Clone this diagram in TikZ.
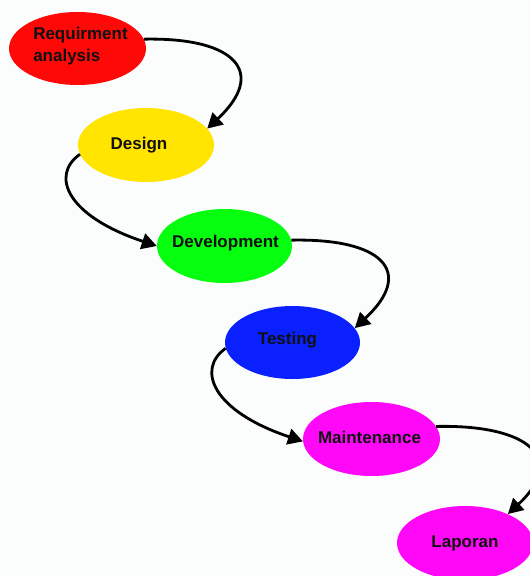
\documentclass[tikz,border=0pt]{standalone}
\usepackage{fontspec}
\setmainfont{Liberation Sans}
\usetikzlibrary{arrows.meta,shapes.geometric}
\definecolor{bg}{HTML}{FBFDFD}
\definecolor{cred}{HTML}{FF0808}
\definecolor{cyel}{HTML}{FFE500}
\definecolor{cgrn}{HTML}{05FF0F}
\definecolor{cblu}{HTML}{0A20FF}
\definecolor{cmag}{HTML}{FF08F8}
\definecolor{ink}{HTML}{111111}
\tikzset{
  phase/.style={ellipse, draw=none, minimum width=136pt, minimum height=74pt, inner sep=0pt},
  phasetext/.style={text=ink, font=\bfseries\fontsize{17}{22}\selectfont, align=left, inner sep=0pt},
  flow/.style={line width=2.8pt, draw=black, -{Triangle[length=15pt,width=16pt]}}
}
\begin{document}
\begin{tikzpicture}[x=1pt,y=-1pt]
\clip (0,0) rectangle (530,576);
\fill[bg] (0,0) rectangle (530,576);
\node[phase, fill=cred, minimum width=137pt, minimum height=73pt,
  label={[phasetext, xshift=3pt, yshift=2pt]center:{Requirment\\analysis}}] (req) at (77.5,48.5) {};
\node[phase, fill=cyel, label={[phasetext, xshift=-7pt]center:Design}] (des) at (146,145) {};
\node[phase, fill=cgrn, minimum width=135pt, label={[phasetext, xshift=1pt, yshift=3pt]center:Development}] (dev) at (224.5,246) {};
\node[phase, fill=cblu, minimum width=135pt, minimum height=73pt, label={[phasetext, xshift=-5pt, yshift=2pt]center:Testing}] (tst) at (292.5,342.5) {};
\node[phase, fill=cmag, minimum width=137pt, label={[phasetext, xshift=-2pt, yshift=2pt]center:Maintenance}] (mnt) at (371.5,439) {};
\node[phase, fill=cmag, label={[phasetext, yshift=0pt]center:Laporan}] (lap) at (465,543) {};
\draw[flow] (req.8) .. controls +(92,-2) and +(60,-56) .. (des.15);
\draw[flow] (des.188) .. controls +(-30,21) and +(-90,-30) .. (dev.180);
\draw[flow] (dev.5) .. controls +(92,-2) and +(60,-56) .. (tst.13);
\draw[flow] (tst.185) .. controls +(-30,21) and +(-90,-30) .. (mnt.182);
\draw[flow] (mnt.11) .. controls +(92,-2) and +(60,-56) .. (lap.34);
\end{tikzpicture}
\end{document}
